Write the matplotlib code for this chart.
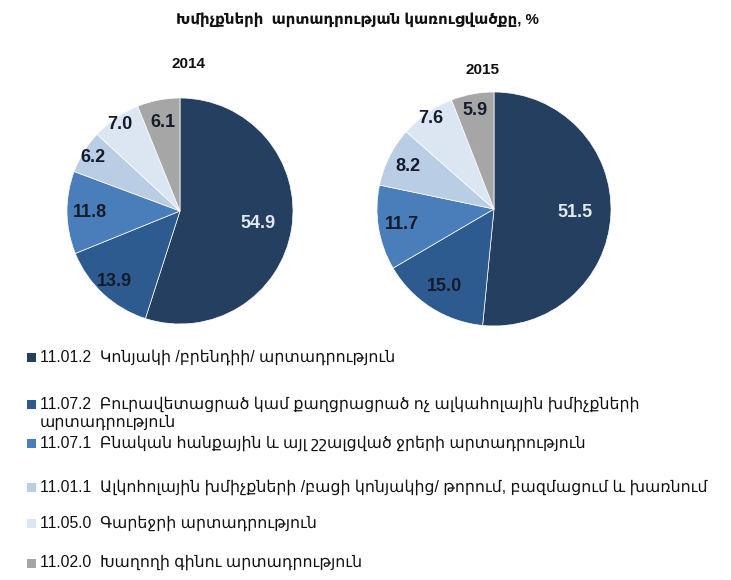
import matplotlib
matplotlib.use("Agg")
import matplotlib.pyplot as plt
from matplotlib.patches import Rectangle
import numpy as np

plt.rcParams['font.family'] = ['Liberation Sans', 'DejaVu Sans']

title = "Խմիչքների  արտադրության կառուցվածքը, %"
years = ["2014", "2015"]
values_2014 = [54.9, 13.9, 11.8, 6.2, 7.0, 6.1]
values_2015 = [51.5, 15.0, 11.7, 8.2, 7.6, 5.9]
categories = [
    "11.01.2  Կոնյակի /բրենդիի/ արտադրություն",
    "11.07.2  Բուրավետացրած կամ քաղցրացրած ոչ ալկահոլային խմիչքների\nարտադրություն",
    "11.07.1  Բնական հանքային և այլ շշալցված ջրերի արտադրություն",
    "11.01.1  Ալկոհոլային խմիչքների /բացի կոնյակից/ թորում, բազմացում և խառնում",
    "11.05.0  Գարեջրի արտադրություն",
    "11.02.0  Խաղողի գինու արտադրություն",
]
colors = ["#243F60", "#2E5B8F", "#4A7EBB", "#B9CDE5", "#DCE6F2", "#A6A6A6"]
label_colors = ["#E2E8F0", "#141B2B", "#141B2B", "#141B2B", "#141B2B", "#141B2B"]

W, H = 731, 580
fig = plt.figure(figsize=(W / 100, H / 100), dpi=100)


def pie_at(cx, cy, r, vals, radii):
    ax = fig.add_axes([(cx - r) / W, 1 - (cy + r) / H, 2 * r / W, 2 * r / H])
    wedges, _ = ax.pie(vals, colors=colors, startangle=90, counterclock=False,
                       wedgeprops=dict(edgecolor="white", linewidth=0.5))
    ax.set_xlim(-1, 1)
    ax.set_ylim(-1, 1)
    ax.set_aspect("equal")
    for w, v, rr, c in zip(wedges, vals, radii, label_colors):
        ang = np.deg2rad((w.theta1 + w.theta2) / 2)
        ax.text(rr * np.cos(ang), rr * np.sin(ang), f"{v:.1f}", ha="center",
                va="center", fontsize=13, fontweight="bold", color=c)
    return ax


pie_at(180, 211, 113, values_2014, [0.70, 0.85, 0.80, 0.90, 0.93, 0.80])
pie_at(494, 209, 117, values_2015, [0.69, 0.79, 0.80, 0.82, 0.94, 0.86])

fig.text(188 / W, 1 - 64 / H, years[0], ha="center", va="center",
         fontsize=11, fontweight="bold", color="#111111")
fig.text(483 / W, 1 - 70 / H, years[1], ha="center", va="center",
         fontsize=11, fontweight="bold", color="#111111")

fig.text(357 / W, 1 - 20 / H, title, ha="center", va="center",
         fontsize=10.8, fontweight="bold", color="#111111")

row_y = [357, 404, 443, 487, 523, 563]
for y, lab, c in zip(row_y, categories, colors):
    fig.patches.append(Rectangle((27 / W, 1 - (y + 5) / H), 9 / W, 9 / H,
                                 transform=fig.transFigure, facecolor=c,
                                 edgecolor="none"))
    fig.text(40 / W, 1 - (y - 8) / H, lab, ha="left", va="top", fontsize=11.3,
             color="#111111", linespacing=1.2)

fig.savefig("out.png", dpi=100)
